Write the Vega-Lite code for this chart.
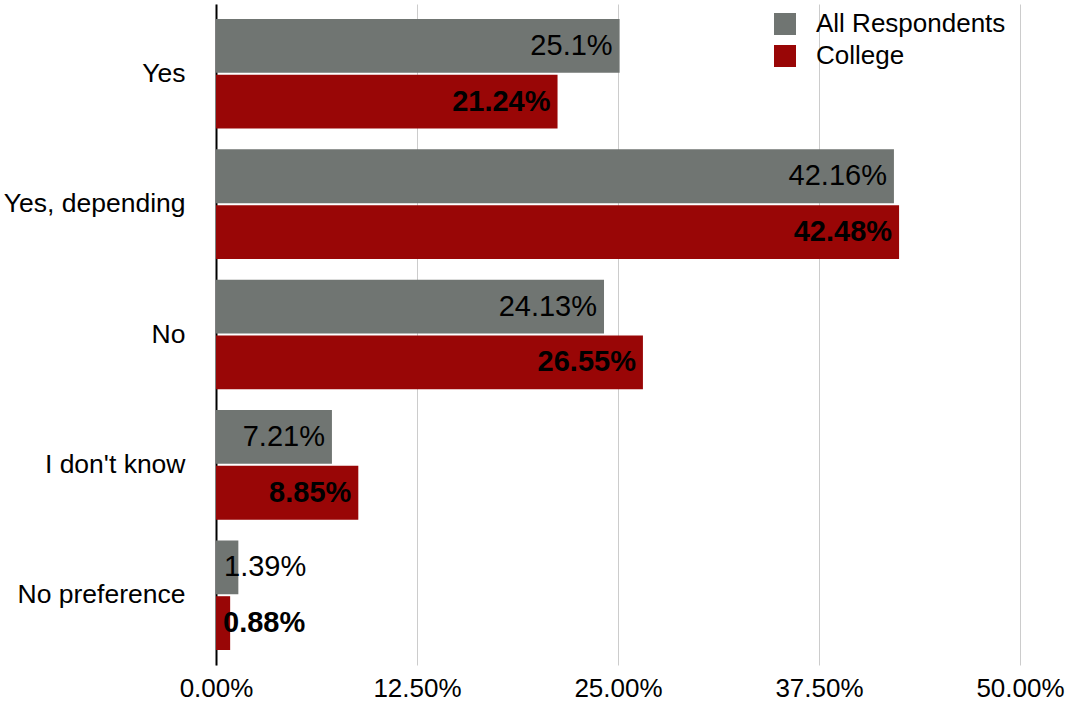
{
  "$schema": "https://vega.github.io/schema/vega-lite/v6.json",
  "width": 804,
  "height": 661,
  "autosize": {"type": "none"},
  "padding": {"left": 216, "top": 4, "right": 49, "bottom": 37},
  "background": "white",
  "config": {
    "view": {"stroke": null},
    "font": "Liberation Sans",
    "axis": {"labelFont": "Liberation Sans", "labelColor": "black"},
    "legend": {"labelFont": "Liberation Sans"}
  },
  "data": {
    "values": [
      {"answer": "Yes", "group": "All Respondents", "value": 25.1, "label": "25.1%"},
      {"answer": "Yes", "group": "College", "value": 21.24, "label": "21.24%"},
      {"answer": "Yes, depending", "group": "All Respondents", "value": 42.16, "label": "42.16%"},
      {"answer": "Yes, depending", "group": "College", "value": 42.48, "label": "42.48%"},
      {"answer": "No", "group": "All Respondents", "value": 24.13, "label": "24.13%"},
      {"answer": "No", "group": "College", "value": 26.55, "label": "26.55%"},
      {"answer": "I don't know", "group": "All Respondents", "value": 7.21, "label": "7.21%"},
      {"answer": "I don't know", "group": "College", "value": 8.85, "label": "8.85%"},
      {"answer": "No preference", "group": "All Respondents", "value": 1.39, "label": "1.39%"},
      {"answer": "No preference", "group": "College", "value": 0.88, "label": "0.88%"}
    ]
  },
  "encoding": {
    "y": {
      "field": "answer",
      "type": "nominal",
      "sort": ["Yes", "Yes, depending", "No", "I don't know", "No preference"],
      "scale": {"paddingInner": 0.159, "paddingOuter": 0.115},
      "axis": {
        "title": null,
        "ticks": false,
        "labelFontSize": 26.5,
        "labelPadding": 31,
        "labelLimit": 300,
        "domain": true,
        "domainColor": "black",
        "domainWidth": 2
      }
    },
    "yOffset": {
      "field": "group",
      "type": "nominal",
      "sort": ["All Respondents", "College"],
      "scale": {"paddingInner": 0.036, "paddingOuter": 0}
    }
  },
  "layer": [
    {
      "mark": {"type": "bar"},
      "encoding": {
        "x": {
          "field": "value",
          "type": "quantitative",
          "scale": {"domain": [0, 50], "nice": false},
          "axis": {
            "title": null,
            "values": [0, 12.5, 25, 37.5, 50],
            "labelExpr": "format(datum.value, '.2f') + '%'",
            "labelFontSize": 26,
            "labelPadding": 10,
            "labelFlush": false,
            "labelOverlap": false,
            "labelBound": false,
            "ticks": false,
            "domain": false,
            "grid": true,
            "gridColor": "#cccccc",
            "gridWidth": 1
          }
        },
        "color": {
          "field": "group",
          "type": "nominal",
          "scale": {"domain": ["All Respondents", "College"], "range": ["#707572", "#990606"]},
          "legend": {
            "title": null,
            "orient": "none",
            "legendX": 556,
            "legendY": 7,
            "padding": 0,
            "symbolType": "square",
            "symbolSize": 484,
            "symbolStrokeWidth": 0,
            "labelFontSize": 26,
            "labelOffset": 18,
            "labelLimit": 400,
            "rowPadding": 6
          }
        }
      }
    },
    {
      "transform": [{"filter": "datum.value >= 5 && datum.group == 'All Respondents'"}],
      "mark": {"type": "text", "align": "right", "baseline": "middle", "dx": -7, "fontSize": 29, "color": "black"},
      "encoding": {
        "x": {"field": "value", "type": "quantitative"},
        "text": {"field": "label"}
      }
    },
    {
      "transform": [{"filter": "datum.value >= 5 && datum.group == 'College'"}],
      "mark": {"type": "text", "align": "right", "baseline": "middle", "dx": -7, "fontSize": 29, "fontWeight": "bold", "color": "black"},
      "encoding": {
        "x": {"field": "value", "type": "quantitative"},
        "text": {"field": "label"}
      }
    },
    {
      "transform": [{"filter": "datum.value < 5 && datum.group == 'All Respondents'"}],
      "mark": {"type": "text", "align": "left", "baseline": "middle", "dx": 8, "fontSize": 29, "color": "black"},
      "encoding": {
        "x": {"datum": 0, "type": "quantitative"},
        "text": {"field": "label"}
      }
    },
    {
      "transform": [{"filter": "datum.value < 5 && datum.group == 'College'"}],
      "mark": {"type": "text", "align": "left", "baseline": "middle", "dx": 7, "fontSize": 29, "fontWeight": "bold", "color": "black"},
      "encoding": {
        "x": {"datum": 0, "type": "quantitative"},
        "text": {"field": "label"}
      }
    }
  ]
}
